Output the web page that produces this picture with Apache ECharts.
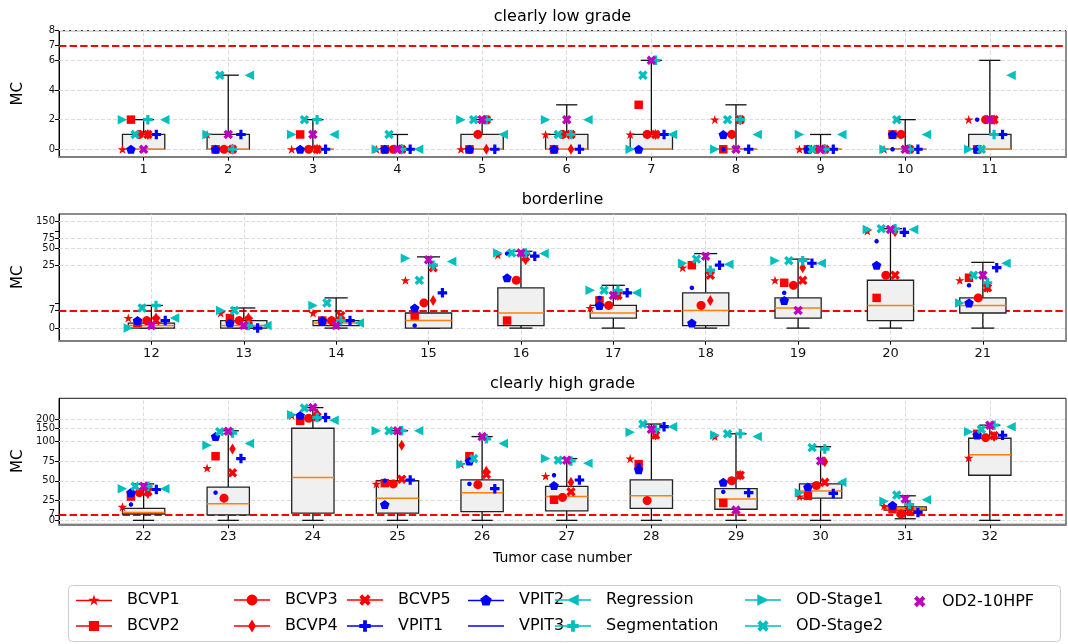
<!DOCTYPE html>
<html><head><meta charset="utf-8">
<script src="https://cdn.jsdelivr.net/npm/echarts@6/dist/echarts.min.js"></script>
<style>html,body{margin:0;padding:0;background:#fff}#c{width:1068px;height:644px}</style>
</head><body><div id="c"></div>
<script>
// ---------------- DATA ----------------
const cases = [1,2,3,4,5,6,7,8,9,10,11,12,13,14,15,16,17,18,19,20,21,22,23,24,25,26,27,28,29,30,31,32];
const panelTitles = ['clearly low grade','borderline','clearly high grade'];
const panelCases = [[1,11],[12,21],[22,32]];
const yLimits = [[-0.5,8],[-5,200],[-5,400]];
// tick labels split in two interleaved sets so neighbouring labels never collide within one axis
const yTickLabelsA = [[0,2,4,6,7,8],[0,25,75,150],[0,25,75,150]];
const yTickLabelsB = [[],[7,50],[7,50,100,200]];
const yMinorTicks = [[],[10,100],[]];
const linThresh = [null,25,100];
const thresholdMC = 7;

const BCVP1 = [0,1,0,0,0,1,1,2,0,0,2, 4,6,6,19,38,8,24,19,100,19, 17,66,230,46,71,56,78,116,30,18,79];
const BCVP2 = [2,0,1,0,0,0,3,0,0,1,0, 2,4,3,5,3,11,25,18,12,20, 30,81,193,47,81,26,71,22,31,14,127];
const BCVP3 = [1,0,0,0,1,1,1,1,0,1,2, 3,3,3,10,19,9,9,17,21,12, 35,28,210,46,45,29,25,50,44,8,112];
const BCVP4 = [1,0,0,0,0,0,1,2,0,0,2, 4,4,3,11,31,13,11,24,97,16, 34,90,243,95,62,48,122,57,74,13,116];
const BCVP5 = [1,0,0,0,2,1,1,2,0,0,2, 3,3,5,24,35,13,21,19,21,16, 36,60,220,52,58,36,122,57,48,12,120];
const VPIT1 = [1,1,0,0,0,0,1,0,0,0,1, 3,0,3,14,36,14,25,27,95,24, 39,78,215,51,40,51,160,35,34,10,121];
const VPIT2 = [0,0,0,0,0,0,0,1,0,1,0, 3,2,3,8,20,9,2,11,25,10, 35,116,229,20,75,44,64,48,42,19,122];
const VPIT3 = [0,0,0,0,0,0,0,0,0,0,2, 2,2,3,1,40,12,16,14,66,17, 20,35,225,50,46,57,70,36,42,16,125];
const Regression = [2,5,1,0,1,2,1,1,1,1,5, 4,1,2,29,40,14,26,27,107,27, 40,97,197,140,97,72,160,116,48,26,160];
const Segmentation = [2,0,2,0,2,1,6,2,0,0,1, 9,1,3,25,41,15,23,30,110,18, 43,130,215,140,108,75,147,127,90,20,168];
const ODStage1 = [2,1,1,0,2,2,0,0,1,0,0, 0,7,9,33,41,15,27,30,107,10, 40,95,235,140,71,78,133,122,35,24,136];
const ODStage2 = [1,5,2,1,2,1,5,2,0,2,0, 8,7,10,19,41,15,32,30,110,21, 43,136,292,140,78,76,174,127,92,32,147];
const OD2_10HPF = [0,1,1,0,2,2,6,0,0,0,2, 1,1,1,31,41,13,36,7,107,21, 43,138,296,140,116,76,147,13,75,27,168];

const boxMin = [0,0,0,0,0,0,0,0,0,0,0, 0,0,0,0,0,0,0,0,0,0, 0,0,0,0,0,0,0,0,0,2,0];
const boxQ1  = [0,0,0,0,0,0,0,0,0,0,0, 0,0,1,0,1,4,1,4,3,6, 8,7,9,9,11,12,15,14,28,13,57];
const boxMed = [0,0,0,0,0,0,0,0,0,0,0, 1,1,2,3,6,6,7,8,9,9, 10,21,54,28,35,30,31,27,37,15,83];
const boxQ3  = [1,1,0,0,1,1,1,0,0,0,1, 2,3,3,6,16,9,14,12,19,12, 15,42,152,50,51,43,51,40,46,17,110];
const boxMax = [2,5,2,1,2,3,6,3,1,2,6, 9,8,12,35,44,17,40,32,110,28, 46,140,296,140,116,78,174,127,93,31,168];

// ---------------- STYLE ----------------
const RED='#ff0000', BLUE='#0000ff', CYAN='#00bfbf', MAG='#bf00bf';
const FONT = 'DejaVu Sans';

function poly(type, s){
  const pts=[];
  if(type==='star'){ for(let k=0;k<10;k++){const r=k%2?s/2*0.382:s/2;const a=(-90+36*k)*Math.PI/180;pts.push([r*Math.cos(a),r*Math.sin(a)]);} }
  else if(type==='pent'){ for(let k=0;k<5;k++){const a=(-90+72*k)*Math.PI/180;pts.push([s/2*Math.cos(a),s/2*Math.sin(a)]);} }
  else if(type==='circle'){ for(let k=0;k<24;k++){const a=k*15*Math.PI/180;pts.push([s/2*Math.cos(a),s/2*Math.sin(a)]);} }
  else if(type==='square'){ pts.push([-s/2,-s/2],[s/2,-s/2],[s/2,s/2],[-s/2,s/2]); }
  else if(type==='thin'){ pts.push([0,-s/2],[s*0.3,0],[0,s/2],[-s*0.3,0]); }
  else if(type==='left'){ pts.push([-s/2,0],[s/2,-s/2],[s/2,s/2]); }
  else if(type==='right'){ pts.push([s/2,0],[-s/2,s/2],[-s/2,-s/2]); }
  else if(type==='plus'||type==='x'){
    const u=[[-1,-3],[1,-3],[1,-1],[3,-1],[3,1],[1,1],[1,3],[-1,3],[-1,1],[-3,1],[-3,-1],[-1,-1]];
    const sc = type==='plus'? s/6 : s/(2*2.828);
    const c=Math.SQRT1_2;
    u.forEach(p=>{let x=p[0]*sc,y=p[1]*sc; if(type==='x'){const nx=(x-y)*c, ny=(x+y)*c; x=nx;y=ny;} pts.push([x,y]);});
  }
  return pts;
}
function area(p){let a=0;for(let i=0;i<p.length;i++){const q=p[(i+1)%p.length];a+=p[i][0]*q[1]-q[0]*p[i][1];}return a;}
function toPath(pts){return 'M'+pts.map(p=>p[0].toFixed(2)+' '+p[1].toFixed(2)).join(' L')+' Z';}
function symbolOf(type,s){const p=poly(type,s);const xs=p.map(q=>q[0]),ys=p.map(q=>q[1]);
  return {symbol:'path://'+toPath(p), size:[Math.max(...xs)-Math.min(...xs), Math.max(...ys)-Math.min(...ys)]};}
function legendIcon(type,s,withLine){
  const rect=[[0,62],[360,62],[360,78],[0,78]];
  let parts=[];
  const ra=area(rect);
  if(withLine) parts.push(toPath(rect));
  if(type){ let p=poly(type,s*10).map(q=>[q[0]+180,q[1]+70]); if(withLine && Math.sign(area(p))!==Math.sign(ra)) p=p.reverse(); parts.push(toPath(p)); }
  return 'path://'+parts.join(' ');
}

const seriesDefs = [
  {name:'BCVP1', values:BCVP1, color:RED, type:'star', size:10, off:-0.25},
  {name:'BCVP2', values:BCVP2, color:RED, type:'square', size:8.5, off:-0.15},
  {name:'BCVP3', values:BCVP3, color:RED, type:'circle', size:9, off:-0.05},
  {name:'BCVP4', values:BCVP4, color:RED, type:'thin', size:11, off:0.05},
  {name:'BCVP5', values:BCVP5, color:RED, type:'x', size:9.5, off:0.05},
  {name:'VPIT1', values:VPIT1, color:BLUE, type:'plus', size:9.5, off:0.15},
  {name:'VPIT2', values:VPIT2, color:BLUE, type:'pent', size:10, off:-0.15},
  {name:'VPIT3', values:VPIT3, color:BLUE, type:'circle', size:4.5, off:-0.15, legendNoMarker:true},
  {name:'Regression', values:Regression, color:CYAN, type:'left', size:9.5, off:0.25},
  {name:'Segmentation', values:Segmentation, color:CYAN, type:'plus', size:9.5, off:0.05},
  {name:'OD-Stage1', values:ODStage1, color:CYAN, type:'right', size:9.5, off:-0.25},
  {name:'OD-Stage2', values:ODStage2, color:CYAN, type:'x', size:9.5, off:-0.1},
  {name:'OD2-10HPF', values:OD2_10HPF, color:MAG, type:'x', size:9.5, off:0, legendNoLine:true}
];

// ---------------- LAYOUT ----------------
const gridTop=[30.7,214,398.3], gridH=[126,126.7,126], gridLeft=59, gridW=1007;
const titleY=[17,200,384];

function makeTf(L){const a=1/(1-0.1);return v=>{if(L===null)return v;const av=Math.abs(v);return av<=L? v*a : Math.sign(v)*L*(a+Math.log10(av/L));};}

const grids=[],xAxes=[],yAxes=[],yAxes2=[],series=[];
for(let p=0;p<3;p++){
  const tf=makeTf(linThresh[p]);
  const [c0,c1]=panelCases[p];
  const pc=cases.filter(c=>c>=c0&&c<=c1);
  grids.push({left:gridLeft,top:gridTop[p],width:gridW,height:gridH[p],show:true,borderColor:'#1a1a1a',borderWidth:1,backgroundColor:'transparent'});
  xAxes.push({type:'value',gridIndex:p,min:c0-1,max:c1+0.9,
    axisLine:{show:true,onZero:false,lineStyle:{color:'#7f7f7f',width:2}},
    axisTick:{show:true,length:4,lineStyle:{color:'#000'},customValues:pc},
    axisLabel:{customValues:pc,fontSize:13,color:'#111',fontFamily:FONT,margin:6,hideOverlap:false,formatter:v=>String(v)},
    splitLine:{show:false}});
  const allLabels=yTickLabelsA[p].concat(yTickLabelsB[p]);
  const labMap={};allLabels.forEach(v=>{labMap[tf(v).toFixed(3)]=String(v);});
  const fmt=v=>{const k=Math.abs(Number(v))<1e-9?'0.000':Number(v).toFixed(3);return labMap[k]||'';};
  const labStyle={fontSize:10,color:'#111',fontFamily:FONT,margin:4,hideOverlap:false,showMinLabel:true,showMaxLabel:true,formatter:fmt};
  yAxes.push({type:'value',gridIndex:p,position:'left',offset:0,min:tf(yLimits[p][0]),max:tf(yLimits[p][1]),
    axisLine:{show:true,onZero:false,lineStyle:{color:'#000',width:1}},
    axisTick:{show:true,length:4,lineStyle:{color:'#000'},customValues:allLabels.concat(yMinorTicks[p]).map(tf)},
    axisLabel:Object.assign({customValues:yTickLabelsA[p].map(tf)},labStyle),
    splitLine:{show:false}});
  yAxes2.push({type:'value',gridIndex:p,position:'left',offset:0,min:tf(yLimits[p][0]),max:tf(yLimits[p][1]),
    show:yTickLabelsB[p].length>0,
    axisLine:{show:false},axisTick:{show:false},
    axisLabel:Object.assign({customValues:yTickLabelsB[p].length?yTickLabelsB[p].map(tf):[tf(0)]},labStyle),
    splitLine:{show:false}});
  // grid lines
  const gridLS={color:'#dcdcdc',width:1,type:[4,2]};
  const ml=[];
  allLabels.forEach(v=>{ if(v!==thresholdMC) ml.push({yAxis:tf(v),lineStyle:gridLS}); });
  pc.forEach(c=>ml.push({xAxis:c,lineStyle:gridLS}));
  series.push({type:'line',xAxisIndex:p,yAxisIndex:p,data:[],silent:true,animation:false,
    markLine:{silent:true,symbol:'none',animation:false,z:1,label:{show:false},data:ml}});
  series.push({type:'line',xAxisIndex:p,yAxisIndex:p,data:[],silent:true,animation:false,
    markLine:{silent:true,symbol:'none',animation:false,z:1.5,label:{show:false},
      data:[{yAxis:tf(thresholdMC),lineStyle:{color:RED,width:2,type:[7.4,3.2]}}]}});
  // boxes
  const boxData=pc.map(c=>{const i=cases.indexOf(c);return [c,tf(boxMin[i]),tf(boxQ1[i]),tf(boxMed[i]),tf(boxQ3[i]),tf(boxMax[i])];});
  series.push({type:'custom',xAxisIndex:p,yAxisIndex:p,z:2,silent:true,animation:false,data:boxData,
    encode:{x:0,y:[1,2,3,4,5]},
    renderItem:(params,api)=>{
      const x=api.value(0),mn=api.value(1),q1=api.value(2),md=api.value(3),q3=api.value(4),mx=api.value(5);
      const l=api.coord([x-0.25,q3]), r=api.coord([x+0.25,q1]);
      const cx=api.coord([x,md])[0], ym=api.coord([x,md])[1];
      const yMin=api.coord([x,mn])[1], yMax=api.coord([x,mx])[1];
      const cl=api.coord([x-0.125,mn])[0], cr=api.coord([x+0.125,mn])[0];
      const ls={stroke:'#111',lineWidth:1.3};
      return {type:'group',children:[
        {type:'line',shape:{x1:cx,y1:r[1],x2:cx,y2:yMin},style:ls},
        {type:'line',shape:{x1:cx,y1:l[1],x2:cx,y2:yMax},style:ls},
        {type:'line',shape:{x1:cl,y1:yMin,x2:cr,y2:yMin},style:ls},
        {type:'line',shape:{x1:cl,y1:yMax,x2:cr,y2:yMax},style:ls},
        {type:'rect',shape:{x:l[0],y:l[1],width:r[0]-l[0],height:r[1]-l[1]},style:{fill:'#f0f0f0',stroke:'#222',lineWidth:1.3}},
        {type:'line',shape:{x1:l[0],y1:ym,x2:r[0],y2:ym},style:{stroke:'#ff7f0e',lineWidth:1.5}}
      ]};
    }});
  // scatter
  seriesDefs.forEach((d,k)=>{
    const sym=symbolOf(d.type,d.size);
    series.push({type:'scatter',name:d.name,xAxisIndex:p,yAxisIndex:p,z:3,silent:true,animation:false,
      symbol:sym.symbol,symbolSize:sym.size,itemStyle:{color:d.color,opacity:1},
      data:pc.map(c=>{const i=cases.indexOf(c);return [c+d.off, tf(d.values[i])];})});
  });
}
yAxes2.forEach(a=>yAxes.push(a));

// legends
const colX=[76,234,347,468,555,745];
const rowY=[592,618];
const legends=seriesDefs.map((d,k)=>{
  const col=Math.floor(k/2), row=k%2;
  if(d.legendNoLine){
    const ic=symbolOf(d.type,d.size*1.2);
    return {data:[{name:d.name,icon:ic.symbol}],left:914,top:rowY[row]+1.5,itemWidth:ic.size[0],itemHeight:ic.size[1],padding:0,
      symbolKeepAspect:true,selectedMode:false,textStyle:{fontSize:16,fontFamily:FONT,color:'#000',padding:[0,0,0,11.5]}};
  }
  return {data:[{name:d.name,icon:legendIcon(d.legendNoMarker?null:d.type,d.size*1.2,true)}],
    left:colX[col],top:rowY[row],itemWidth:36,itemHeight:14,padding:0,symbolKeepAspect:true,selectedMode:false,
    textStyle:{fontSize:16,fontFamily:FONT,color:'#000',padding:[0,0,0,10]}};
});

const graphics=[
  {type:'rect',left:68,top:585,shape:{width:992,height:56,r:4},style:{fill:'#fff',stroke:'#cccccc',lineWidth:1},z:-1,silent:true},
  {type:'text',x:18,y:(gridTop[0]+gridH[0]/2),rotation:Math.PI/2,style:{text:'MC',font:'15px "DejaVu Sans"',fill:'#000',textAlign:'center',textVerticalAlign:'middle'}},
  {type:'text',x:18,y:(gridTop[1]+gridH[1]/2),rotation:Math.PI/2,style:{text:'MC',font:'15px "DejaVu Sans"',fill:'#000',textAlign:'center',textVerticalAlign:'middle'}},
  {type:'text',x:18,y:(gridTop[2]+gridH[2]/2),rotation:Math.PI/2,style:{text:'MC',font:'15px "DejaVu Sans"',fill:'#000',textAlign:'center',textVerticalAlign:'middle'}},
  {type:'text',x:562.5,y:558,style:{text:'Tumor case number',font:'14px "DejaVu Sans"',fill:'#000',textAlign:'center',textVerticalAlign:'middle'}}
];
panelTitles.forEach((t,p)=>graphics.push({type:'text',x:562.5,y:titleY[p],style:{text:t,font:'16px "DejaVu Sans"',fill:'#000',textAlign:'center',textVerticalAlign:'middle'}}));

const chart=echarts.init(document.getElementById('c'),null,{renderer:'canvas'});
chart.setOption({animation:false,backgroundColor:'#fff',grid:grids,xAxis:xAxes,yAxis:yAxes,series:series,legend:legends,graphic:graphics});
</script></body></html>
